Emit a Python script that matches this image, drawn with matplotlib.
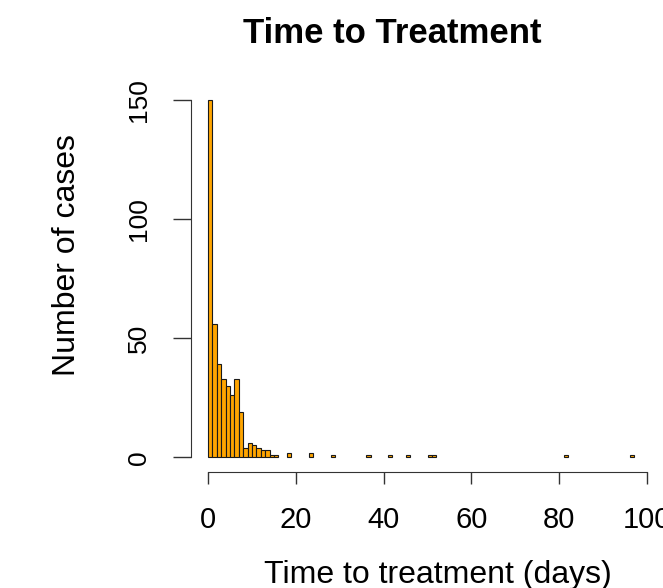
import matplotlib
matplotlib.use('Agg')
import matplotlib.pyplot as plt

# Histogram counts, one-day bins (bin start in days -> number of cases)
bin_start = [0, 1, 2, 3, 4, 5, 6, 7, 8, 9, 10, 11, 12, 13, 14, 15,
             18, 23, 28, 36, 41, 45, 50, 51, 81, 96]
counts = [150, 56, 39, 33, 30, 26, 33, 19, 4, 6, 5, 4, 3, 3, 1, 1,
          2, 2, 1, 1, 1, 1, 1, 1, 1, 1]

x_ticks = [0, 20, 40, 60, 80, 100]
y_ticks = [0, 50, 100, 150]

plt.rcParams['font.family'] = ['Liberation Sans', 'DejaVu Sans']

W, H = 663, 588
fig = plt.figure(figsize=(W / 100, H / 100), dpi=100)
# plot region as in R's default hist() layout
ax = fig.add_axes([191 / W, 1 - 471.6 / H, 460 / W, (471.6 - 85.7) / H])

ax.bar(bin_start, counts, width=1, align='edge', color='orange',
       edgecolor='#1a1a1a', linewidth=0.8)

ax.set_xlim(-3.88, 100.88)
ax.set_ylim(-6, 156)

for s in ['top', 'right']:
    ax.spines[s].set_visible(False)
ax.spines['left'].set_bounds(0, 150)
ax.spines['bottom'].set_bounds(0, 100)
ax.spines['left'].set_color('#333333')
ax.spines['bottom'].set_color('#333333')

ax.set_xticks(x_ticks)
ax.set_yticks(y_ticks)
ax.set_xticklabels([str(v) for v in x_ticks])
ax.set_yticklabels([str(v) for v in y_ticks], rotation=90, va='center')
ax.tick_params(axis='x', length=8.8, width=1, color='#333333', pad=16, labelsize=21)
ax.tick_params(axis='y', length=13, width=1, color='#333333', pad=16, labelsize=19)

fig.text(392 / W, 1 - 43 / H, 'Time to Treatment', ha='center', va='baseline',
         fontsize=25, fontweight='bold')
fig.text(438 / W, 1 - 583 / H, 'Time to treatment (days)', ha='center', va='baseline',
         fontsize=23)
fig.text(67 / W, 1 - 255 / H, 'Number of cases', ha='center', va='center',
         rotation=90, fontsize=23)

fig.savefig('out.png', dpi=100)
